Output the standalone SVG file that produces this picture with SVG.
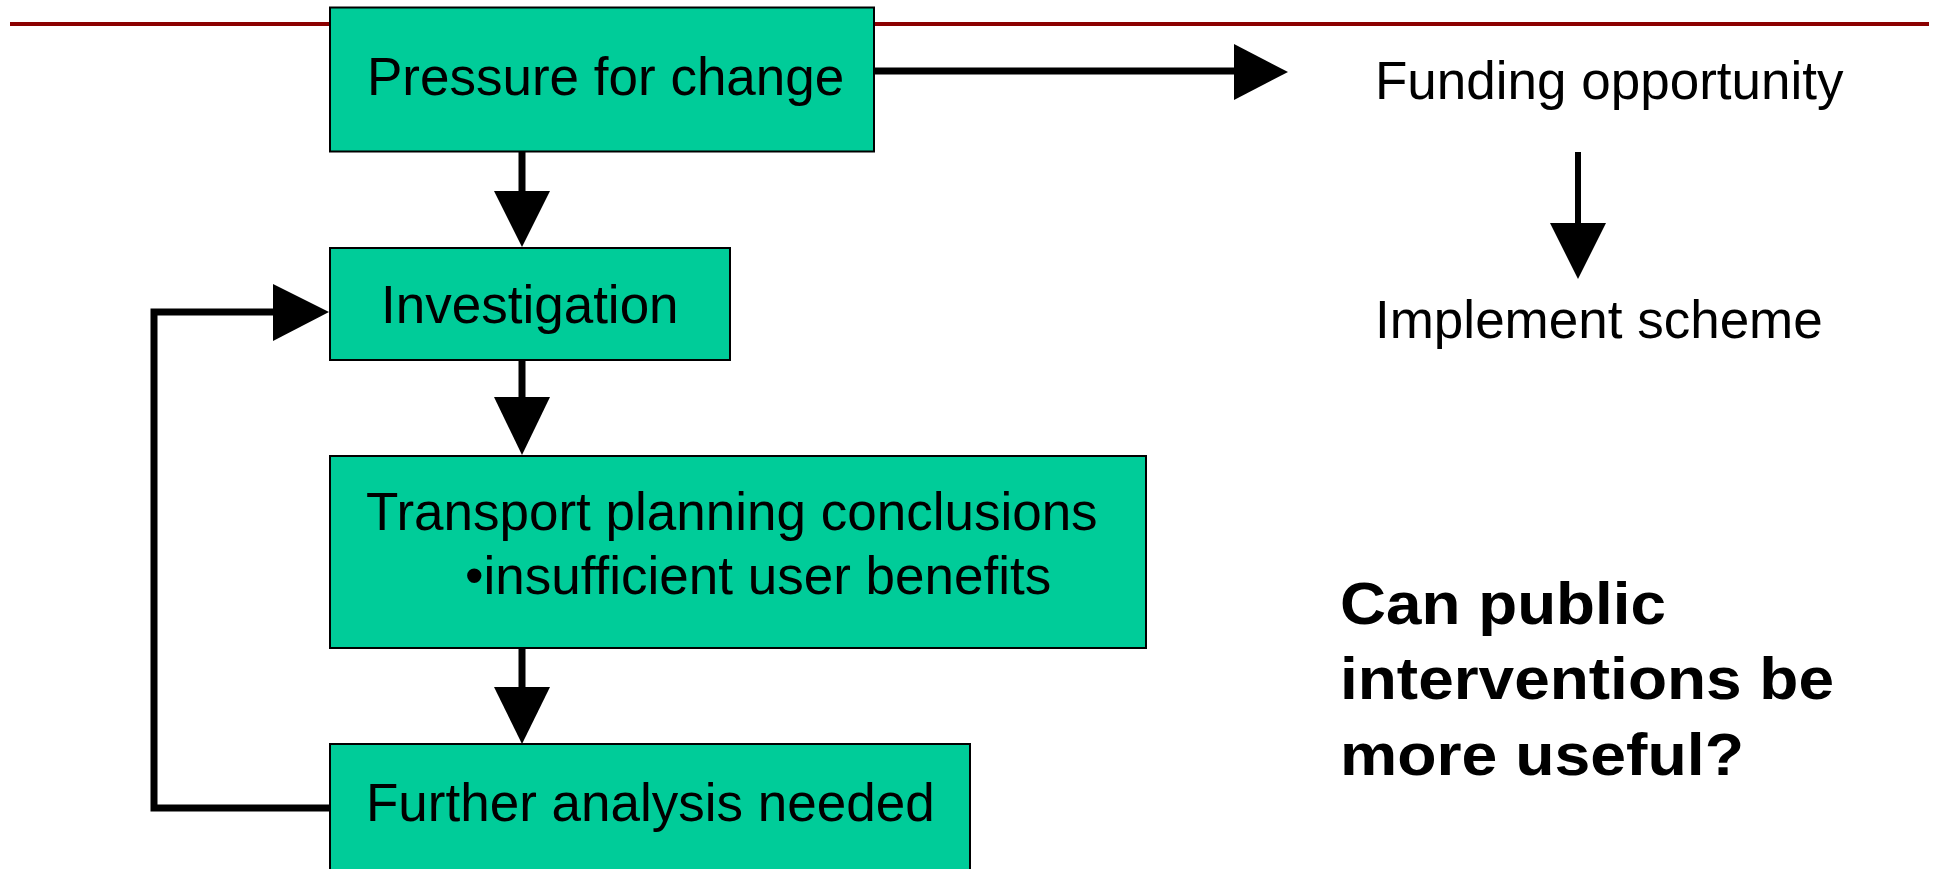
<svg xmlns="http://www.w3.org/2000/svg" width="1939" height="869" viewBox="0 0 1939 869">
<style>
.box{fill:#00CC99;stroke:#000;stroke-width:2}
.t{font-family:"Liberation Sans",Arial,sans-serif;font-size:53px;fill:#000}
.tb{font-family:"Liberation Sans",Arial,sans-serif;font-size:60px;font-weight:bold;fill:#000}
.ln{stroke:#000;stroke-width:7;fill:none}
.ln2{stroke:#000;stroke-width:6;fill:none}
.hd{fill:#000}
</style>
<rect width="1939" height="869" fill="#fff"/>
<line x1="10" y1="24" x2="1929" y2="24" stroke="#8B0000" stroke-width="4"/>
<g id="connectors">
<line class="ln" x1="874" y1="71" x2="1236" y2="71"/>
<polygon class="hd" points="1234,44 1288,72 1234,100"/>
<line class="ln2" x1="1578" y1="152" x2="1578" y2="225"/>
<polygon class="hd" points="1550,223 1606,223 1578,279"/>
<line class="ln" x1="522" y1="152" x2="522" y2="193"/>
<polygon class="hd" points="494,191 550,191 522,247"/>
<line class="ln" x1="522" y1="360" x2="522" y2="399"/>
<polygon class="hd" points="494,397 550,397 522,455"/>
<line class="ln" x1="522" y1="648" x2="522" y2="689"/>
<polygon class="hd" points="494,687 550,687 522,744"/>
<polyline class="ln" points="330,808 154,808 154,312 275,312"/>
<polygon class="hd" points="273,284 329,312 273,341"/>
</g>
<g id="pressure">
<rect class="box" x="330" y="7.5" width="544" height="144"/>
<text class="t" x="367" y="95">Pressure for change</text>
</g>
<g id="investigation">
<rect class="box" x="330" y="248" width="400" height="112"/>
<text class="t" x="381" y="323">Investigation</text>
</g>
<g id="transport">
<rect class="box" x="330" y="456" width="816" height="192"/>
<text class="t" x="366" y="530" font-size="53.4">Transport planning conclusions</text>
<text class="t" x="465" y="594">•insufficient user benefits</text>
</g>
<g id="further">
<rect class="box" x="330" y="744" width="640" height="140"/>
<text class="t" x="366" y="821" font-size="53.2">Further analysis needed</text>
</g>
<g id="funding">
<text class="t" x="1375" y="99" font-size="52">Funding opportunity</text>
</g>
<g id="implement">
<text class="t" x="1375" y="338" font-size="52">Implement scheme</text>
</g>
<g id="question">
<text class="tb" x="1340" y="624" textLength="326" lengthAdjust="spacingAndGlyphs">Can public</text>
<text class="tb" x="1340" y="699" textLength="494" lengthAdjust="spacingAndGlyphs">interventions be</text>
<text class="tb" x="1340" y="775" textLength="404" lengthAdjust="spacingAndGlyphs">more useful?</text>
</g>
</svg>
